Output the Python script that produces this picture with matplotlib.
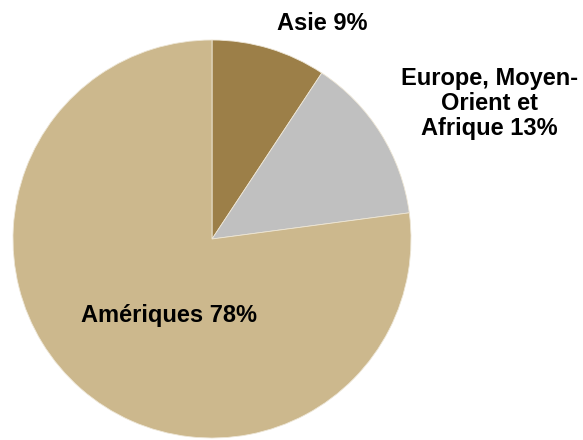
import matplotlib
matplotlib.use("Agg")
import matplotlib.pyplot as plt

# regional split of revenue (wedge sizes as drawn, labels as printed)
regions = ["Asie", "Europe, Moyen-\nOrient et\nAfrique", "Amériques"]
shares = [9.3, 13.6, 77.1]
label_pct = ["9%", "13%", "78%"]
colors = ["#9C7F48", "#C0C0C0", "#CCB88D"]

# where each label sits (data coords, pie radius = 1)
label_pos = [(0.555, 1.085), (1.395, 0.68), (-0.215, -0.385)]

fig = plt.figure(figsize=(5.83, 4.4), dpi=100)
ax = fig.add_axes([13 / 583, 2 / 440, 398 / 583, 398 / 440])

ax.pie(shares, colors=colors, startangle=90, counterclock=False, radius=1,
       wedgeprops=dict(edgecolor="#EDE6D6", linewidth=0.6))

for name, pct, (x, y) in zip(regions, label_pct, label_pos):
    ax.text(x, y, f"{name} {pct}", ha="center", va="center", fontsize=17,
            fontweight="bold", family="Liberation Sans", linespacing=1.12,
            clip_on=False)

ax.set_xlim(-1, 1)
ax.set_ylim(-1, 1)
ax.set_aspect("equal")
ax.axis("off")

fig.savefig("out.png", dpi=100)
